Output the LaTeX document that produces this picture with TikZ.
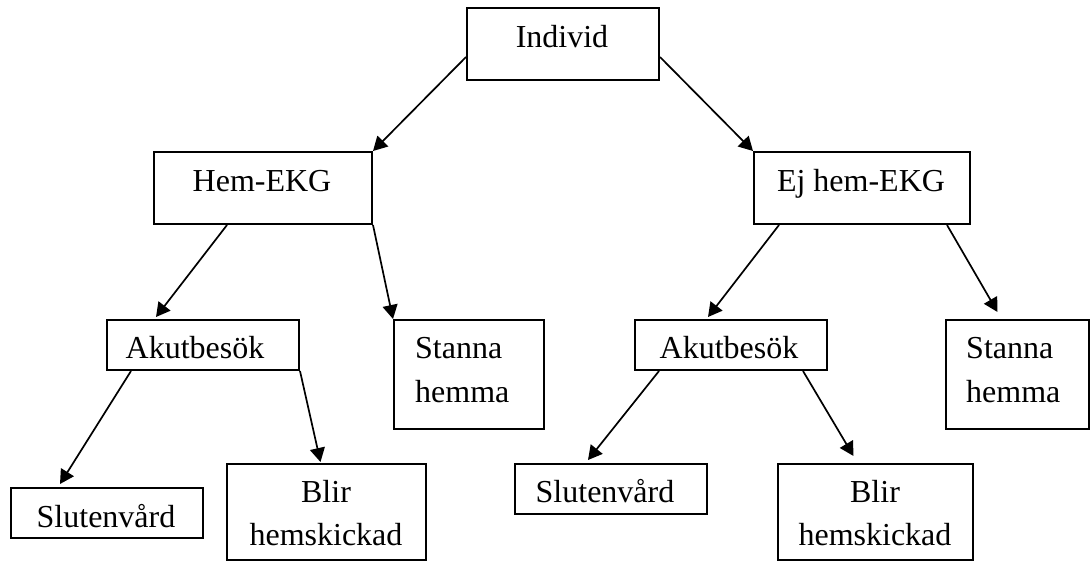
\documentclass[tikz,border=0pt]{standalone}
\usepackage{fontspec}
\setmainfont{Liberation Serif}
\usetikzlibrary{arrows.meta}
\begin{document}
\begin{tikzpicture}[x=1pt,y=-1pt,
  box/.style={draw,line width=2pt,inner sep=0pt,anchor=north west},
  lbl/.style={anchor=base,inner sep=0pt,font=\fontsize{32}{43}\selectfont},
  llbl/.style={anchor=base west,inner sep=0pt,font=\fontsize{32}{43}\selectfont},
  conn/.style={line width=1.7pt,-{Triangle[length=14pt,width=15pt]}}]
\useasboundingbox (0,0) rectangle (1091,560);
% boxes
\node[box,minimum width=192pt,minimum height=72pt] (ind) at (466,7) {};
\node[box,minimum width=218pt,minimum height=72pt] (hem) at (153,151) {};
\node[box,minimum width=216pt,minimum height=72pt] (ej) at (753,151) {};
\node[box,minimum width=192pt,minimum height=50pt] (akL) at (106,319) {};
\node[box,minimum width=150pt,minimum height=109pt] (stL) at (393,319) {};
\node[box,minimum width=192pt,minimum height=50pt] (akR) at (634,319) {};
\node[box,minimum width=143pt,minimum height=109pt] (stR) at (945,319) {};
\node[box,minimum width=192pt,minimum height=50pt] (slL) at (10,487) {};
\node[box,minimum width=199pt,minimum height=96pt] (blL) at (226,463) {};
\node[box,minimum width=192pt,minimum height=50pt] (slR) at (514,463) {};
\node[box,minimum width=195pt,minimum height=96pt] (blR) at (777,463) {};
% texts
\node[lbl] (indT) at (562,47) {Individ};
\node[lbl] (hemT) at (262,191) {Hem-EKG};
\node[lbl] (ejT) at (861,191) {Ej hem-EKG};
\node[lbl] (akLT) at (195,358) {Akutbesök};
\node[lbl] (akRT) at (729,358) {Akutbesök};
\node[llbl] (stLT1) at (415,358) {Stanna};
\node[llbl] (stLT2) at (415,402) {hemma};
\node[llbl] (stRT1) at (966,358) {Stanna};
\node[llbl] (stRT2) at (966,402) {hemma};
\node[lbl] (slLT) at (106,527) {Slutenvård};
\node[lbl] (slRT) at (605,502) {Slutenvård};
\node[lbl] (blLT1) at (326,502) {Blir};
\node[lbl] (blLT2) at (326,545) {hemskickad};
\node[lbl] (blRT1) at (875,502) {Blir};
\node[lbl] (blRT2) at (875,545) {hemskickad};
% connectors
\draw[conn] ([yshift=-13pt]ind.west) -- (hem.north east);
\draw[conn] ([yshift=-13pt]ind.east) -- (ej.north west);
\draw[conn] ([xshift=-36pt]hem.south) -- ([xshift=-47pt,yshift=2pt]akL.north);
\draw[conn] (hem.south east) -- (stL.north west);
\draw[conn] ([xshift=-83pt]ej.south) -- ([xshift=-23pt,yshift=2pt]akR.north);
\draw[conn] ([xshift=85pt]ej.south) -- ([xshift=-20pt,yshift=7pt]stR.north);
\draw[conn] ([xshift=-72pt]akL.south) -- ([xshift=-47pt,yshift=3pt]slL.north);
\draw[conn] (akL.south east) -- ([xshift=-6pt,yshift=1pt]blL.north);
\draw[conn] ([xshift=-72pt]akR.south) -- ([xshift=-23pt,yshift=3pt]slR.north);
\draw[conn] ([xshift=72pt]akR.south) -- ([xshift=-22pt,yshift=7pt]blR.north);
\end{tikzpicture}
\end{document}
